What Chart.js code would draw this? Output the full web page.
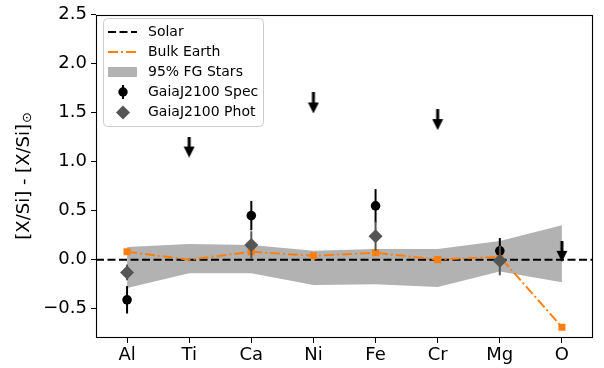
<!DOCTYPE html>
<html>
<head>
<meta charset="utf-8">
<script src="https://cdn.jsdelivr.net/npm/chart.js@4.4.1/dist/chart.umd.min.js"></script>
<style>
  html, body { margin: 0; padding: 0; background: #fff; }
  #wrap { width: 604px; height: 368px; position: relative; }
</style>
</head>
<body>
<div id="wrap"><canvas id="c" width="604" height="368"></canvas></div>
<script>
// ---------------- data ----------------
const elements = ['Al', 'Ti', 'Ca', 'Ni', 'Fe', 'Cr', 'Mg', 'O'];
const yTickValues = [-0.5, 0.0, 0.5, 1.0, 1.5, 2.0, 2.5];
const solarLevel = 0.0;
const bulkEarth = [0.08, 0.00, 0.08, 0.04, 0.07, 0.00, 0.03, -0.69];
const bulkEarthMarker = [true, false, true, true, true, true, true, true];
const fgUpper = [0.13, 0.16, 0.15, 0.09, 0.11, 0.11, 0.19, 0.35];
const fgLower = [-0.29, -0.14, -0.14, -0.26, -0.25, -0.28, -0.12, -0.23];
const specVals = [-0.41, null, 0.45, null, 0.55, null, 0.09, null];
const specErr  = [0.14, null, 0.15, null, 0.17, null, 0.13, null];
const photVals = [-0.13, null, 0.15, null, 0.24, null, -0.01, null];
const photErr  = [0.08, null, 0.14, null, 0.15, null, 0.15, null];
const upperLimits = [null, 1.15, null, 1.60, null, 1.43, null, 0.085];
const yMin = -0.8, yMax = 2.5;

// ---------------- helpers ----------------
function pts(vals, errs) {
  const out = [];
  vals.forEach((v, i) => {
    if (v === null) return;
    const p = { x: i, y: v };
    if (errs) p.err = errs[i];
    out.push(p);
  });
  return out;
}
function makeArrow() {
  const c = document.createElement('canvas');
  c.width = 12; c.height = 21;
  const g = c.getContext('2d');
  g.fillStyle = '#000';
  g.fillRect(4.5, 0, 3, 11);
  g.beginPath();
  g.moveTo(0.5, 10); g.lineTo(11.5, 10); g.lineTo(6, 21); g.closePath();
  g.fill();
  return c;
}
const arrowImg = makeArrow();
const FONT = "'DejaVu Sans', 'Liberation Sans', sans-serif";
const ORANGE = '#ff7f0e';
const BAND = 'rgb(178,178,178)';
const PHOT = '#555555';
const SOLAR_DASH = [8, 3.5];
const EARTH_DASH = [10, 3, 2, 3];

// ---------------- plugins ----------------
const errorBars = {
  id: 'errorBars',
  beforeDatasetDraw(chart, args) {
    const ds = chart.data.datasets[args.index];
    if (!ds.errColor) return;
    const xs = chart.scales.x, ys = chart.scales.y, ctx = chart.ctx;
    ctx.save();
    ctx.strokeStyle = ds.errColor;
    ctx.lineWidth = 2;
    ds.data.forEach(p => {
      if (p.err == null) return;
      const px = xs.getPixelForValue(p.x);
      ctx.beginPath();
      ctx.moveTo(px, ys.getPixelForValue(p.y - p.err));
      ctx.lineTo(px, ys.getPixelForValue(p.y + p.err));
      ctx.stroke();
    });
    ctx.restore();
  }
};

const frameAndLegend = {
  id: 'frameAndLegend',
  afterDraw(chart) {
    const ctx = chart.ctx, a = chart.chartArea;
    ctx.save();
    // frame
    ctx.strokeStyle = '#000';
    ctx.lineWidth = 1.1;
    ctx.strokeRect(Math.round(a.left) + 0.5, Math.round(a.top) + 0.5,
                   Math.round(a.right - a.left) - 1, Math.round(a.bottom - a.top) - 1);

    // y title
    ctx.save();
    ctx.translate(24, (a.top + a.bottom) / 2);
    ctx.rotate(-Math.PI / 2);
    ctx.fillStyle = '#000';
    ctx.textBaseline = 'middle';
    ctx.font = '18px ' + FONT;
    const main = '[X/Si] - [X/Si]';
    const w1 = ctx.measureText(main).width;
    ctx.font = '13px ' + FONT;
    const sub = '\u2299';
    const w2 = ctx.measureText(sub).width;
    const start = -(w1 + w2) / 2;
    ctx.font = '18px ' + FONT;
    ctx.textAlign = 'left';
    ctx.fillText(main, start, 0);
    ctx.font = '13px ' + FONT;
    ctx.fillText(sub, start + w1 + 1, 4);
    ctx.restore();

    // legend
    const lx = 103.5, ly = 18.5, lw = 160, lh = 108, r = 4;
    ctx.beginPath();
    ctx.moveTo(lx + r, ly);
    ctx.lineTo(lx + lw - r, ly); ctx.quadraticCurveTo(lx + lw, ly, lx + lw, ly + r);
    ctx.lineTo(lx + lw, ly + lh - r); ctx.quadraticCurveTo(lx + lw, ly + lh, lx + lw - r, ly + lh);
    ctx.lineTo(lx + r, ly + lh); ctx.quadraticCurveTo(lx, ly + lh, lx, ly + lh - r);
    ctx.lineTo(lx, ly + r); ctx.quadraticCurveTo(lx, ly, lx + r, ly);
    ctx.closePath();
    ctx.fillStyle = 'rgba(255,255,255,0.8)';
    ctx.fill();
    ctx.strokeStyle = '#cccccc';
    ctx.lineWidth = 1;
    ctx.stroke();

    const rows = [32, 52, 72, 92, 112.5];
    const hx0 = 108, hx1 = 137, hxc = 123, tx = 148;
    // Solar
    ctx.strokeStyle = '#000'; ctx.lineWidth = 2; ctx.setLineDash(SOLAR_DASH);
    ctx.beginPath(); ctx.moveTo(hx0, rows[0]); ctx.lineTo(hx1, rows[0]); ctx.stroke();
    // Bulk Earth
    ctx.strokeStyle = ORANGE; ctx.lineWidth = 2; ctx.setLineDash(EARTH_DASH);
    ctx.beginPath(); ctx.moveTo(hx0, rows[1]); ctx.lineTo(hx1, rows[1]); ctx.stroke();
    ctx.setLineDash([]);
    // band
    ctx.fillStyle = BAND;
    ctx.fillRect(hx0, rows[2] - 5, hx1 - hx0, 10);
    // spec
    ctx.strokeStyle = '#000'; ctx.lineWidth = 2;
    ctx.beginPath(); ctx.moveTo(hxc, rows[3] - 7); ctx.lineTo(hxc, rows[3] + 7); ctx.stroke();
    ctx.fillStyle = '#000';
    ctx.beginPath(); ctx.arc(hxc, rows[3], 4.7, 0, Math.PI * 2); ctx.fill();
    // phot
    ctx.fillStyle = PHOT;
    ctx.beginPath();
    ctx.moveTo(hxc, rows[4] - 7); ctx.lineTo(hxc + 7, rows[4]);
    ctx.lineTo(hxc, rows[4] + 7); ctx.lineTo(hxc - 7, rows[4]); ctx.closePath(); ctx.fill();

    const labels = ['Solar', 'Bulk Earth', '95% FG Stars', 'GaiaJ2100 Spec', 'GaiaJ2100 Phot'];
    ctx.fillStyle = '#000';
    ctx.font = '14px ' + FONT;
    ctx.textBaseline = 'middle';
    ctx.textAlign = 'left';
    labels.forEach((t, i) => ctx.fillText(t, tx, rows[i]));
    ctx.restore();
  }
};

// ---------------- chart ----------------
new Chart(document.getElementById('c'), {
  type: 'line',
  data: {
    datasets: [
      { label: 'fgUpper', data: pts(fgUpper), fill: 1, backgroundColor: BAND,
        borderWidth: 0, pointRadius: 0, order: 7, tension: 0 },
      { label: 'fgLower', data: pts(fgLower), fill: false,
        borderWidth: 0, pointRadius: 0, order: 7, tension: 0 },
      { label: 'Solar', data: [{ x: -0.5, y: solarLevel }, { x: 7.5, y: solarLevel }],
        borderColor: '#000', borderWidth: 2, borderDash: SOLAR_DASH, pointRadius: 0, order: 6 },
      { label: 'Bulk Earth', data: pts(bulkEarth), borderColor: ORANGE, borderWidth: 2,
        borderDash: EARTH_DASH, pointStyle: 'rect',
        pointRadius: bulkEarthMarker.map(m => m ? 5 : 0),
        pointBackgroundColor: ORANGE, pointBorderWidth: 0, order: 5 },
      { label: 'GaiaJ2100 Spec', data: pts(specVals, specErr), showLine: false,
        pointStyle: 'circle', pointRadius: 4.8, pointBackgroundColor: '#000',
        pointBorderWidth: 0, errColor: '#000', order: 4 },
      { label: 'GaiaJ2100 Phot', data: pts(photVals, photErr), showLine: false,
        pointStyle: 'rectRot', pointRadius: 7, pointBackgroundColor: PHOT,
        pointBorderWidth: 0, errColor: PHOT, order: 3 },
      { label: 'limits', data: pts(upperLimits), showLine: false,
        pointStyle: arrowImg, pointRadius: 10, order: 2 }
    ]
  },
  options: {
    responsive: false,
    animation: false,
    events: [],
    layout: { padding: { top: 12, right: 6, left: 0, bottom: 0 } },
    plugins: { legend: { display: false }, tooltip: { enabled: false } },
    scales: {
      x: {
        type: 'linear', min: -0.5, max: 7.5,
        afterBuildTicks: s => { s.ticks = elements.map((e, i) => ({ value: i })); },
        afterFit: s => { s.height = 30; },
        ticks: {
          callback: v => elements[v], color: '#000', padding: 2,
          font: { size: 18, family: FONT }, maxRotation: 0, autoSkip: false
        },
        grid: { drawOnChartArea: false, drawTicks: true, tickLength: 5, tickColor: '#000', lineWidth: 1 },
        border: { display: false }
      },
      y: {
        type: 'linear', min: yMin, max: yMax,
        afterBuildTicks: s => { s.ticks = yTickValues.map(v => ({ value: v })); },
        afterFit: s => { s.width = 96; },
        ticks: {
          callback: v => v.toFixed(1).replace('-', '\u2212'), color: '#000', padding: 4,
          font: { size: 18, family: FONT }
        },
        grid: { drawOnChartArea: false, drawTicks: true, tickLength: 5, tickColor: '#000', lineWidth: 1 },
        border: { display: false }
      }
    }
  },
  plugins: [errorBars, frameAndLegend]
});
</script>
</body>
</html>
